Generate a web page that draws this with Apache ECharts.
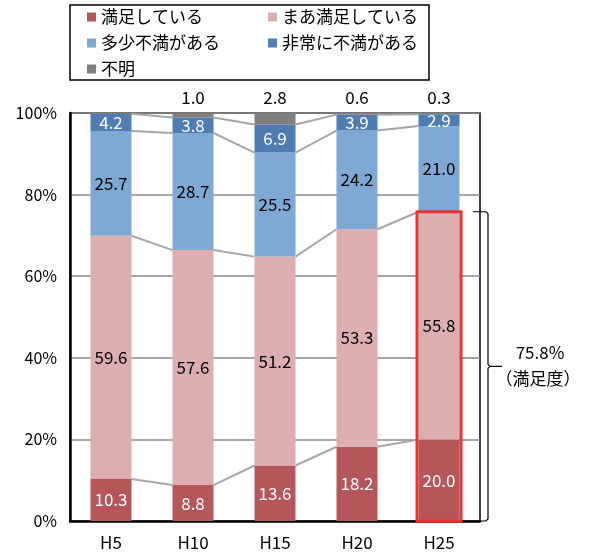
<!DOCTYPE html>
<html><head><meta charset="utf-8">
<script src="https://cdn.jsdelivr.net/npm/echarts@6/dist/echarts.min.js"></script>
<style>html,body{margin:0;padding:0;background:#fff}#c{width:589px;height:558px}</style>
</head><body><div id="c"></div>
<script>
const categories = ['H5', 'H10', 'H15', 'H20', 'H25'];
const seriesNames = ['満足している', 'まあ満足している', '多少不満がある', '非常に不満がある', '不明'];
const satisfied = [10.3, 8.8, 13.6, 18.2, 20.0];
const fairlySatisfied = [59.6, 57.6, 51.2, 53.3, 55.8];
const someDissatisfied = [25.7, 28.7, 25.5, 24.2, 21.0];
const veryDissatisfied = [4.2, 3.8, 6.9, 3.9, 2.9];
const unknown = [0.2, 1.0, 2.8, 0.6, 0.3];
const unknownLabelShown = [false, true, true, true, true];
const highlightIndex = 4;
const bracketText = ['75.8%', '（満足度）'];

const FONT = '"Noto Sans CJK JP", "Noto Sans", sans-serif';
const colors = ['#b5565b', '#dcaeb0', '#7fa8d4', '#4f7cb2', '#7f7f80'];
const labelColors = ['#fff', '#000', '#000', '#fff', '#000'];
const allValues = [satisfied, fairlySatisfied, someDissatisfied, veryDissatisfied, unknown];

// cumulative levels for series connector lines
const cum = categories.map((_, i) => {
  let s = 0; const out = [];
  for (let k = 0; k < 4; k++) { s += allValues[k][i]; out.push(+s.toFixed(2)); }
  return out;
});
const connectorData = [];
for (let i = 0; i < categories.length - 1; i++) {
  for (let k = 0; k < 4; k++) connectorData.push([i, cum[i][k], cum[i + 1][k]]);
}
const highlightTop = +(satisfied[highlightIndex] + fairlySatisfied[highlightIndex]).toFixed(1);

const barSeries = seriesNames.map((name, k) => ({
  name, type: 'bar', stack: 'total', barWidth: '50%',
  itemStyle: { color: colors[k] },
  z: 3,
  data: allValues[k].map((v, i) => k === 4
    ? { value: v, label: { show: unknownLabelShown[i] } }
    : v),
  label: k === 4
    ? { show: true, position: 'top', distance: 7, color: '#000', fontSize: 17, fontFamily: FONT, formatter: p => p.value.toFixed(1) }
    : { show: true, position: 'inside', color: labelColors[k], fontSize: 17, fontFamily: FONT, formatter: p => p.value.toFixed(1) }
}));

const legendPos = [[87, 8], [268, 8], [87, 34], [268, 34], [87, 60]];
const legends = seriesNames.map((n, k) => ({
  data: [n], left: legendPos[k][0], top: legendPos[k][1], padding: 0,
  itemWidth: 9, itemHeight: 9, icon: 'rect', selectedMode: false,
  textStyle: { fontSize: 17, fontFamily: FONT, color: '#000', lineHeight: 18 }
}));

const chart = echarts.init(document.getElementById('c'));
chart.setOption({
  animation: false,
  legend: legends,
  graphic: [{ type: 'rect', shape: { x: 70, y: 5, width: 359, height: 75 }, style: { fill: 'none', stroke: '#000', lineWidth: 1.5 } }],
  grid: { left: 70, right: 109, top: 113, bottom: 37, show: true, borderColor: '#000', borderWidth: 1.5 },
  xAxis: {
    type: 'category', data: categories,
    axisLine: { lineStyle: { color: '#000', width: 2.5 } },
    axisTick: { show: false },
    axisLabel: { color: '#000', fontSize: 17, fontFamily: FONT, margin: 13 }
  },
  yAxis: {
    type: 'value', min: 0, max: 100, interval: 20,
    axisLine: { show: true, lineStyle: { color: '#000', width: 2.5 } },
    axisTick: { show: false },
    axisLabel: { color: '#000', fontSize: 16, fontFamily: FONT, margin: 13, formatter: '{value}%' },
    splitLine: { lineStyle: { color: '#888', width: 1.5 } }
  },
  series: barSeries.concat([
    {
      type: 'custom', z: 2, silent: true, encode: { x: 0, y: [1, 2] },
      data: connectorData,
      renderItem(params, api) {
        const i = api.value(0), a = api.value(1), b = api.value(2);
        const half = api.size([1, 0])[0] * 0.25;
        const p1 = api.coord([i, a]), p2 = api.coord([i + 1, b]);
        return { type: 'line', shape: { x1: p1[0] + half, y1: p1[1], x2: p2[0] - half, y2: p2[1] },
          style: { stroke: '#a6a6a6', lineWidth: 2 } };
      }
    },
    {
      type: 'custom', z: 5, silent: true, clip: false, encode: { x: 0, y: [1, 2] },
      data: [[highlightIndex, 0, highlightTop]],
      renderItem(params, api) {
        const i = api.value(0), lo = api.value(1), hi = api.value(2);
        const band = api.size([1, 0])[0];
        const half = band * 0.25;
        const pTop = api.coord([i, hi]), pBot = api.coord([i, lo]);
        const xr = pTop[0] + band / 2;
        const bx = xr + 8, ym = (pTop[1] + pBot[1]) / 2;
        return { type: 'group', children: [
          { type: 'rect', shape: { x: pTop[0] - half - 1.5, y: pTop[1], width: 2 * half + 3, height: pBot[1] - pTop[1] },
            style: { fill: 'none', stroke: '#ee3131', lineWidth: 3 } },
          { type: 'polyline', shape: { points: [[xr - 7, pTop[1]], [bx - 2, pTop[1]], [bx, pTop[1] + 2], [bx, ym - 2], [bx + 2, ym], [bx + 14, ym]] },
            style: { fill: 'none', stroke: '#000', lineWidth: 1.2 } },
          { type: 'polyline', shape: { points: [[bx + 2, ym], [bx, ym + 2], [bx, pBot[1] - 2], [bx - 2, pBot[1]], [xr, pBot[1]]] },
            style: { fill: 'none', stroke: '#000', lineWidth: 1.2 } },
          { type: 'text', x: 540, y: ym - 14, style: { text: bracketText[0], align: 'center', verticalAlign: 'middle', fontSize: 17, fontFamily: FONT, fill: '#000' } },
          { type: 'text', x: 538, y: ym + 12, style: { text: bracketText[1], align: 'center', verticalAlign: 'middle', fontSize: 17, fontFamily: FONT, fill: '#000' } }
        ] };
      }
    }
  ])
});
</script></body></html>
